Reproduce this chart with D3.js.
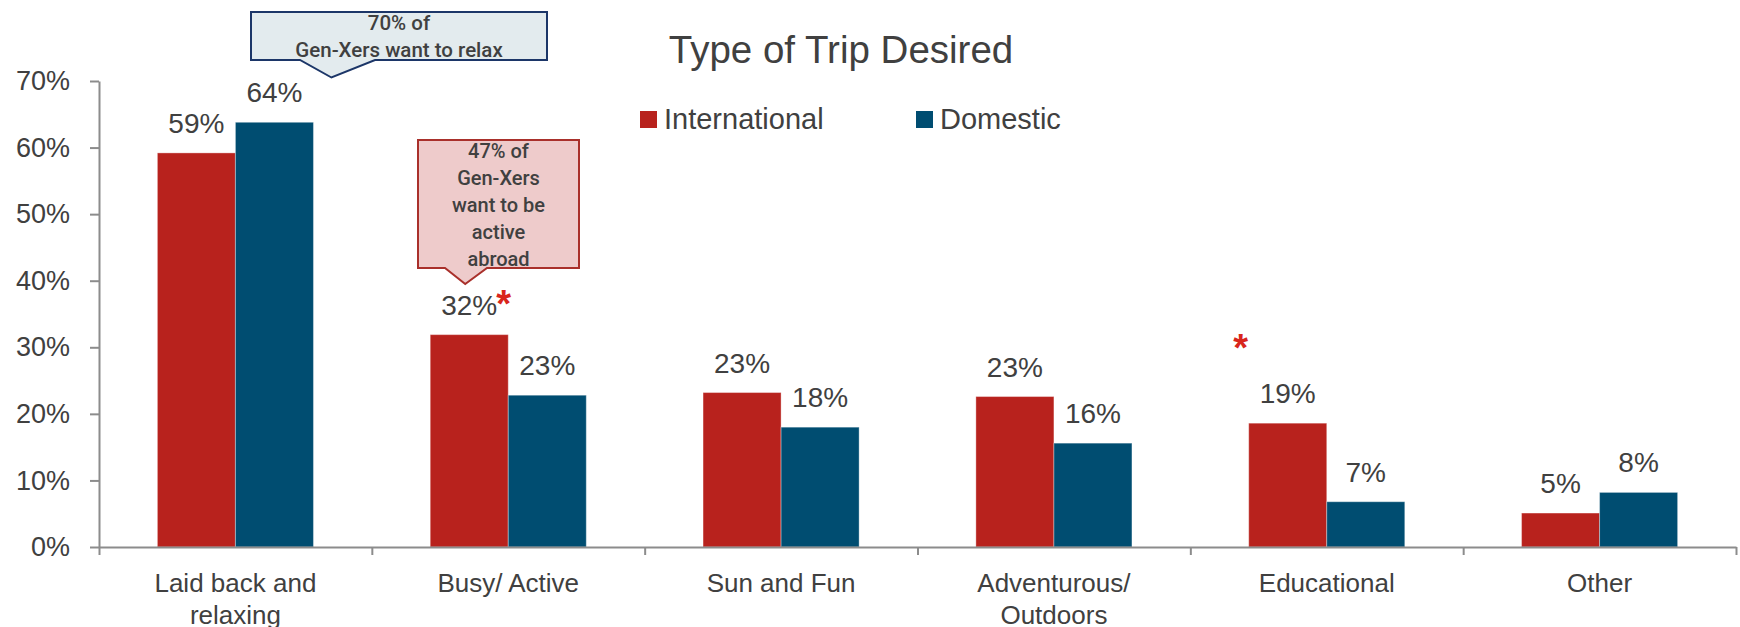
<!DOCTYPE html>
<html>
<head>
<meta charset="utf-8">
<script src="https://cdn.jsdelivr.net/npm/d3@7"></script>
<style>
  html, body { margin: 0; padding: 0; background: #fff; }
  svg { display: block; }
  text { font-family: "Liberation Sans", Arial, sans-serif; fill: #404040; }
</style>
</head>
<body>
<svg id="chart" width="1740" height="627"></svg>
<script>
// ---------- data ----------
const title = "Type of Trip Desired";
const categories = ["Laid back and relaxing", "Busy/ Active", "Sun and Fun", "Adventurous/ Outdoors", "Educational", "Other"];
const categoryLines = [["Laid back and", "relaxing"], ["Busy/ Active"], ["Sun and Fun"], ["Adventurous/", "Outdoors"], ["Educational"], ["Other"]];
const seriesNames = ["International", "Domestic"];
const international = [0.592, 0.319, 0.232, 0.226, 0.186, 0.051];
const domestic = [0.638, 0.228, 0.180, 0.156, 0.068, 0.082];
const yTickValues = [0, 0.1, 0.2, 0.3, 0.4, 0.5, 0.6, 0.7];
const colors = ["#B8221D", "#004D71"];
const starLabel = { category: "Busy/ Active", series: "International" };
const starFloating = { category: "Educational", series: "International" };
const callout1Lines = ["70% of", "Gen-Xers want to relax"];
const callout2Lines = ["47% of", "Gen-Xers", "want to be", "active", "abroad"];

// ---------- layout ----------
const svg = d3.select("#chart");
const plotLeft = 99, plotRight = 1736, plotTop = 81, plotBottom = 547;

const x0 = d3.scaleBand().domain(categories).range([plotLeft, plotRight])
  .paddingInner(0.428).paddingOuter(0.214);
const x1 = d3.scaleBand().domain(seriesNames).range([0, x0.bandwidth()]);
const y = d3.scaleLinear().domain([0, 0.7]).range([plotBottom, plotTop]);
const color = d3.scaleOrdinal().domain(seriesNames).range(colors);
const boundary = d3.scaleLinear().domain([0, categories.length]).range([plotLeft, plotRight]);

const rows = categories.map((c, i) => ({
  category: c,
  values: [
    { series: "International", value: international[i] },
    { series: "Domestic", value: domestic[i] }
  ]
}));

// ---------- title ----------
svg.append("text")
  .attr("x", 841).attr("y", 63)
  .attr("text-anchor", "middle")
  .style("font-size", "38.5px")
  .text(title);

// ---------- legend ----------
const legendX = [640, 916];
seriesNames.forEach((s, i) => {
  svg.append("rect").attr("x", legendX[i]).attr("y", 111)
    .attr("width", 17).attr("height", 17).attr("fill", color(s));
  svg.append("text").attr("x", legendX[i] + 24).attr("y", 128.5)
    .style("font-size", "29px").text(s);
});

// ---------- y axis ----------
const yAxis = svg.append("g")
  .attr("transform", `translate(${plotLeft},0)`)
  .call(d3.axisLeft(y).tickValues(yTickValues).tickFormat(d3.format(".0%"))
    .tickSize(9).tickSizeOuter(0).tickPadding(20));
yAxis.selectAll("path, line").attr("stroke", "#8c8c8c").attr("stroke-width", 2);
yAxis.selectAll("text").style("font-size", "27px")
  .style("font-family", '"Liberation Sans", Arial, sans-serif').attr("fill", "#404040");

// ---------- bars ----------
const groups = svg.append("g").selectAll("g").data(rows).join("g")
  .attr("transform", d => `translate(${x0(d.category)},0)`);

groups.selectAll("rect").data(d => d.values).join("rect")
  .attr("x", d => x1(d.series))
  .attr("y", d => y(d.value))
  .attr("width", x1.bandwidth())
  .attr("height", d => y(0) - y(d.value))
  .attr("fill", d => color(d.series))
  .attr("stroke", "rgba(255,255,255,0.35)")
  .attr("stroke-width", 1);

// value labels
const fmt = d3.format(".0%");
groups.selectAll("text.val").data(d => d.values.map(v => ({ ...v, category: d.category }))).join("text")
  .attr("class", "val")
  .attr("x", d => x1(d.series) + x1.bandwidth() / 2)
  .attr("y", d => y(d.value) - 20)
  .attr("text-anchor", "middle")
  .style("font-size", "28px")
  .text(d => fmt(d.value))
  .each(function (d) {
    if (d.category === starLabel.category && d.series === starLabel.series) {
      const w = this.getComputedTextLength();
      d3.select(this.parentNode).append("text")
        .attr("x", x1(d.series) + x1.bandwidth() / 2 + w / 2 - 1)
        .attr("y", y(d.value) - 18)
        .style("font-size", "38px").style("font-weight", "bold")
        .style("fill", "#D9261C")
        .text("*");
    }
  });

// floating star
{
  const si = categories.indexOf(starFloating.category);
  const v = international[si];
  svg.append("text")
    .attr("x", x0(starFloating.category) + x1(starFloating.series) + x1.bandwidth() / 2 - 47)
    .attr("y", y(v) - 62)
    .attr("text-anchor", "middle")
    .style("font-size", "38px").style("font-weight", "bold")
    .style("fill", "#D9261C")
    .text("*");
}

// ---------- x axis ----------
const xAxis = svg.append("g")
  .attr("transform", `translate(0,${plotBottom})`)
  .call(d3.axisBottom(boundary).tickValues(d3.range(categories.length + 1))
    .tickFormat("").tickSize(8).tickSizeOuter(0));
xAxis.selectAll("path, line").attr("stroke", "#8c8c8c").attr("stroke-width", 2);

// category labels
categories.forEach((c, i) => {
  const cx = x0(c) + x0.bandwidth() / 2;
  const t = svg.append("text")
    .attr("x", cx)
    .attr("y", plotBottom + 45)
    .attr("text-anchor", "middle")
    .style("font-size", "26px");
  categoryLines[i].forEach((line, j) => {
    t.append("tspan").attr("x", cx)
      .attr("dy", j === 0 ? 0 : 31.5).text(line);
  });
});

// ---------- callouts ----------
function callout(box, base, tip, fill, stroke, lines, firstBaseline, lineGap, fontSize) {
  const p = d3.path();
  p.moveTo(box.x0, box.y0);
  p.lineTo(box.x1, box.y0);
  p.lineTo(box.x1, box.y1);
  p.lineTo(base[1], box.y1);
  p.lineTo(tip[0], tip[1]);
  p.lineTo(base[0], box.y1);
  p.lineTo(box.x0, box.y1);
  p.closePath();
  svg.append("path").attr("d", p.toString())
    .attr("fill", fill).attr("stroke", stroke).attr("stroke-width", 2);
  const cx = (box.x0 + box.x1) / 2;
  lines.forEach((l, i) => {
    svg.append("text").attr("x", cx).attr("y", firstBaseline + i * lineGap)
      .attr("text-anchor", "middle")
      .style("font-size", fontSize + "px")
      .style("font-family", "Roboto, 'Liberation Sans', sans-serif")
      .style("font-weight", 500)
      .text(l);
  });
}

// callout 1: anchored near top of the Laid back domestic bar
{
  const bx = x0(categories[0]) + x1("Domestic") + x1.bandwidth();
  callout({ x0: 251, y0: 12, x1: 547, y1: 60 }, [300, 375], [bx + 18, 77.5],
    "#E3EBEE", "#1C3668", callout1Lines, 30, 27, 20.5);
}
// callout 2: pointing at the Busy/Active international label
{
  const bx = x0(categories[1]) + x1("International") + x1.bandwidth() / 2;
  callout({ x0: 418, y0: 140, x1: 579, y1: 268 }, [445, 487], [bx - 4, 284],
    "#EECBCB", "#A9302B", callout2Lines, 158, 27.1, 20);
}
</script>
</body>
</html>
